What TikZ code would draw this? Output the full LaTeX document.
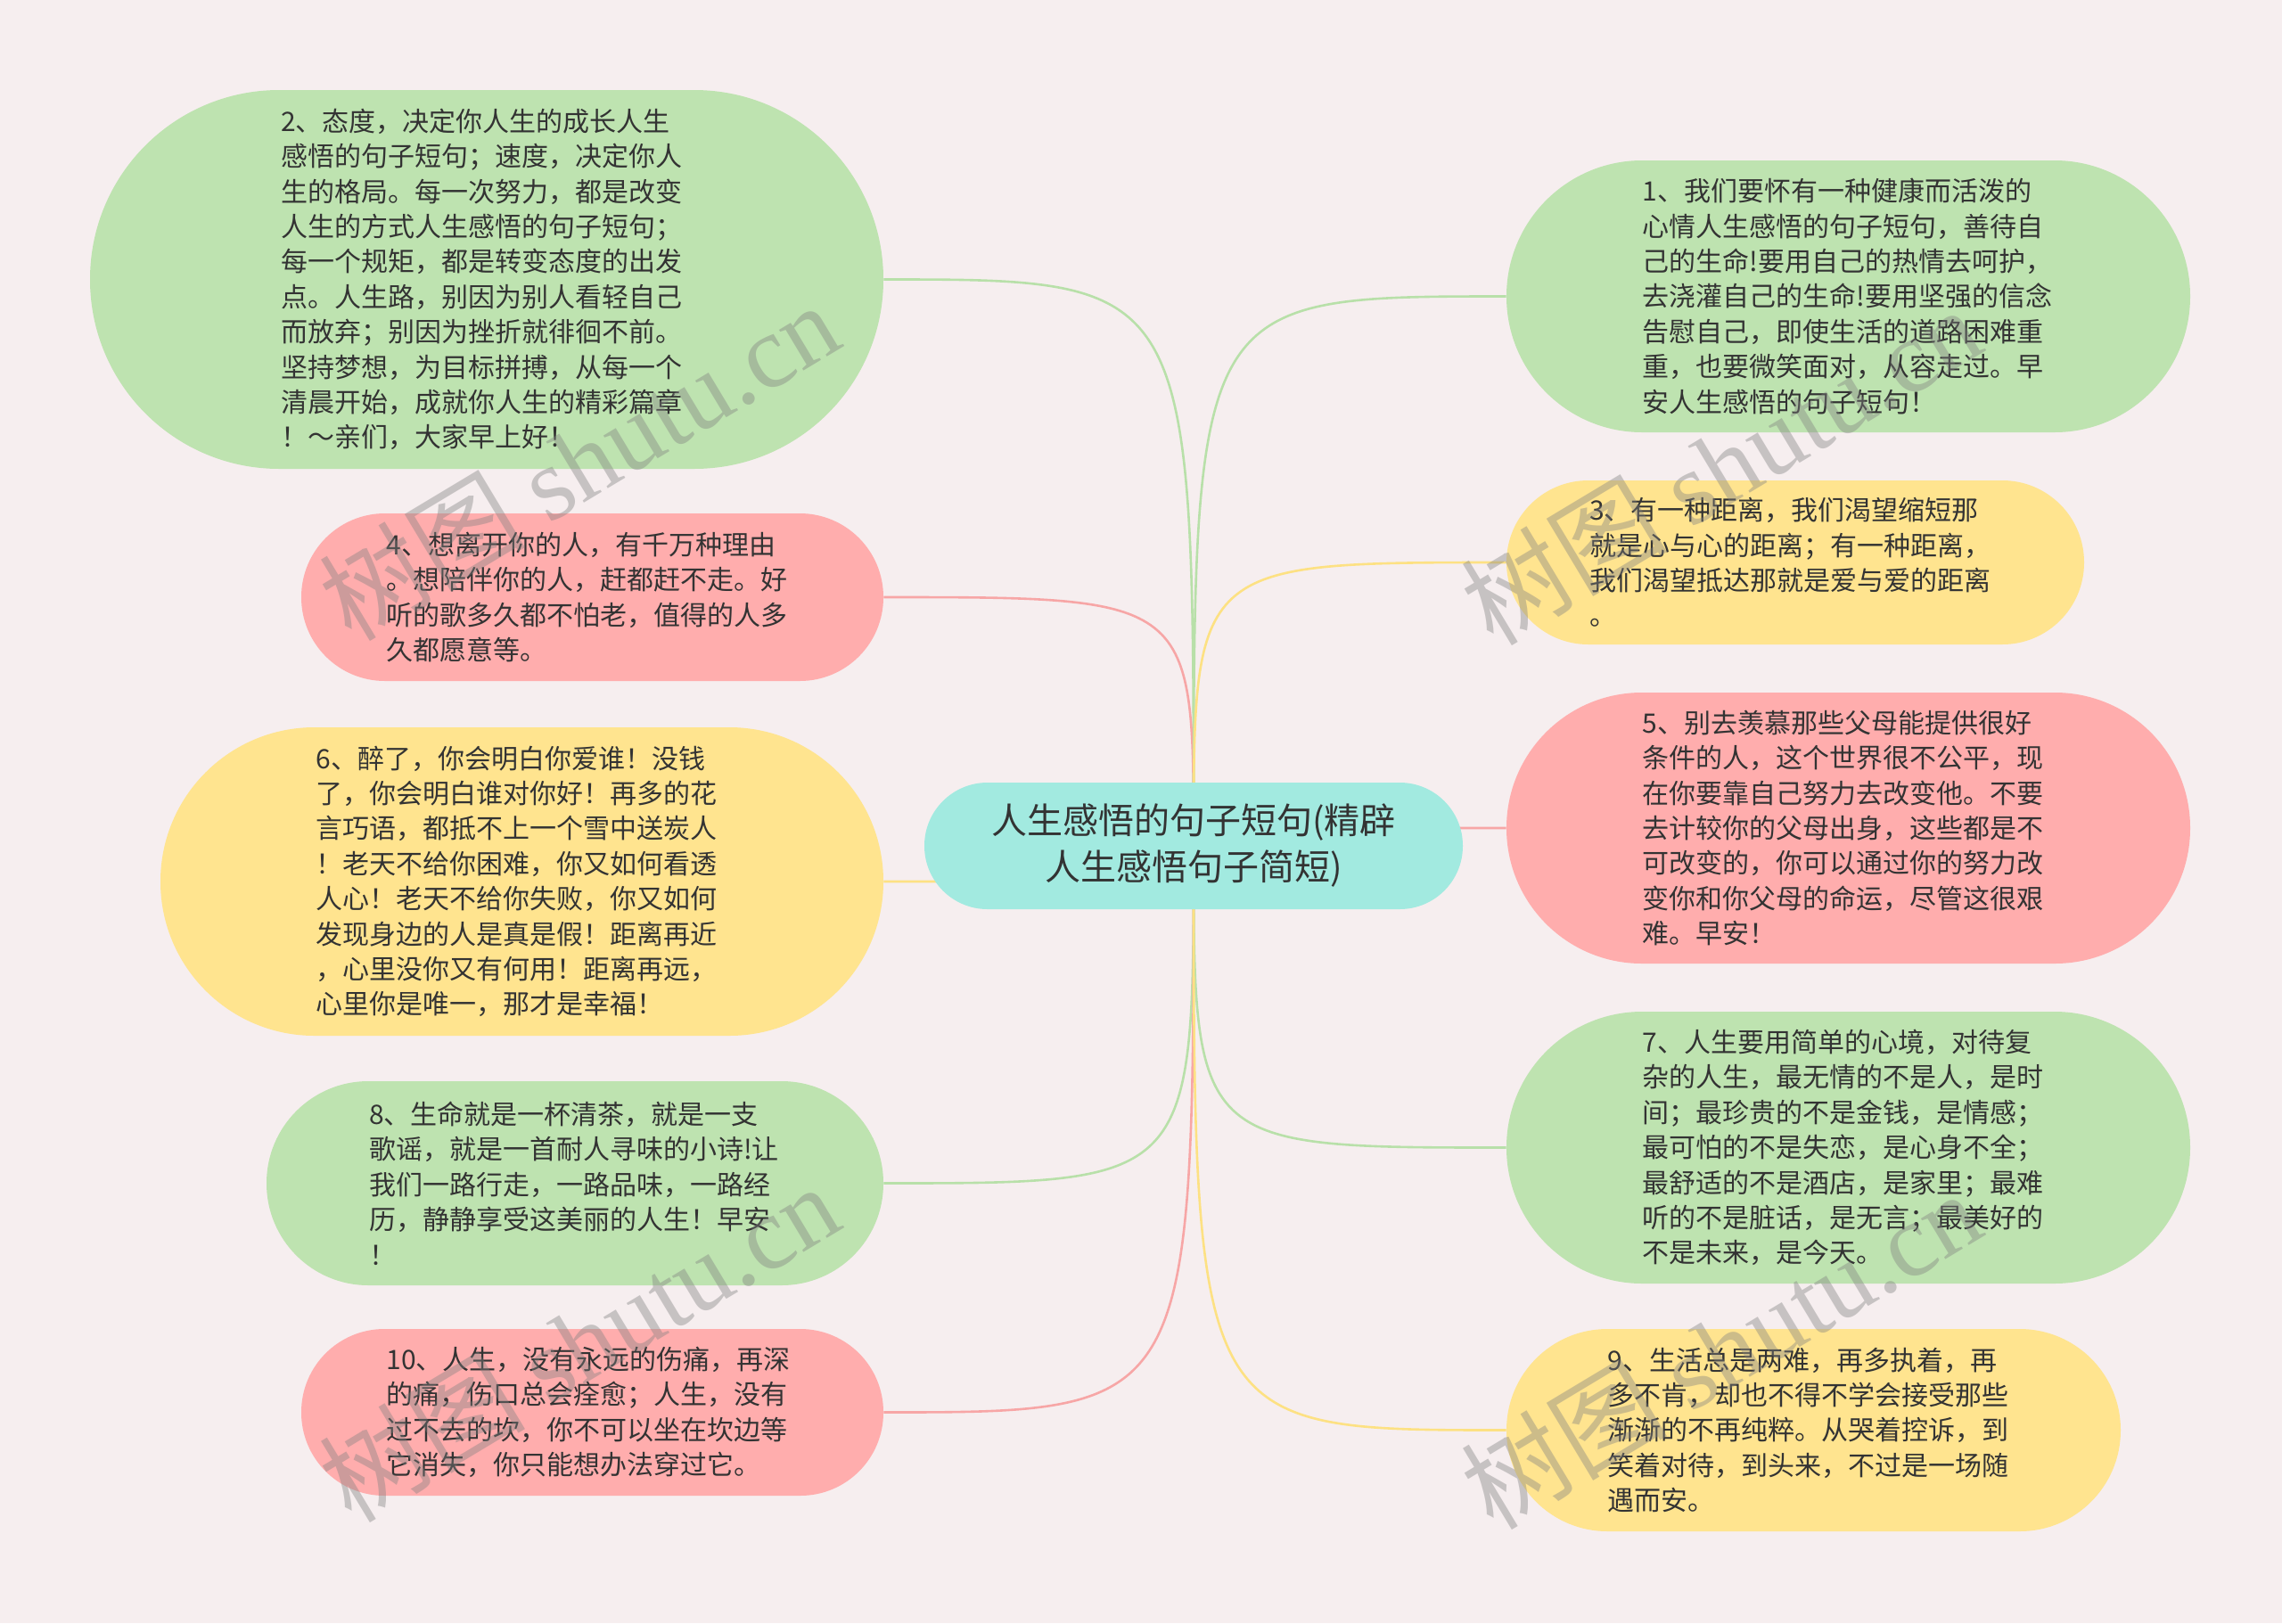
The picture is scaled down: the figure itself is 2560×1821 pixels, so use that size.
\documentclass[tikz,border=0pt]{standalone}
\usepackage{fontspec}
\setmainfont{Noto Sans CJK SC}
\newfontfamily\wmserif{Liberation Serif}
\pgfdeclarelayer{bg}
\pgfsetlayers{bg,main}
\definecolor{bgc}{HTML}{F6EEEF}
\definecolor{gfill}{HTML}{BEE3B0}
\definecolor{rfill}{HTML}{FFADAD}
\definecolor{yfill}{HTML}{FFE48F}
\definecolor{cfill}{HTML}{A2EAE0}
\definecolor{gline}{HTML}{B8E0A9}
\definecolor{rline}{HTML}{F7A6A6}
\definecolor{yline}{HTML}{FDE183}
\definecolor{txt}{HTML}{333333}
\begin{document}
\begin{tikzpicture}[x=0.5pt,y=-0.5pt,
  bubble/.style={draw=none, rectangle, inner sep=0pt, text width=231pt, align=left,
    font=\fontsize{15pt}{19.7pt}\selectfont, text=txt},
  centerbox/.style={draw=none, rectangle, inner sep=0pt, align=center, fill=cfill,
    font=\fontsize{20pt}{26pt}\selectfont, text=txt},
  conn/.style={line width=1.3pt},
  wm/.style={rotate=31, text=gray, opacity=0.4, font=\fontsize{58pt}{58pt}\selectfont},
]
\useasboundingbox (0,0) rectangle (2560,1821);

\node[centerbox, minimum width=302pt, minimum height=71pt, rounded corners=35.4pt] (C) at (1339,949)
  {人生感悟的句子短句(精辟\\人生感悟句子简短)};

\node[bubble, fill=gfill, minimum width=445pt, minimum height=212.5pt, rounded corners=106.1pt] (L1) at (546,313.5)
  {2、态度，决定你人生的成长人生\\
感悟的句子短句；速度，决定你人\\
生的格局。每一次努力，都是改变\\
人生的方式人生感悟的句子短句；\\
每一个规矩，都是转变态度的出发\\
点。人生路，别因为别人看轻自己\\
而放弃；别因为挫折就徘徊不前。\\
坚持梦想，为目标拼搏，从每一个\\
清晨开始，成就你人生的精彩篇章\\
！～亲们，大家早上好！};

\node[bubble, fill=rfill, minimum width=326.5pt, minimum height=94pt, rounded corners=46.9pt] (L2) at (664.5,670)
  {4、想离开你的人，有千万种理由\\
。想陪伴你的人，赶都赶不走。好\\
听的歌多久都不怕老，值得的人多\\
久都愿意等。};

\node[bubble, fill=yfill, minimum width=405.5pt, minimum height=173pt, rounded corners=86.4pt] (L3) at (585.5,989)
  {6、醉了，你会明白你爱谁！没钱\\
了，你会明白谁对你好！再多的花\\
言巧语，都抵不上一个雪中送炭人\\
！老天不给你困难，你又如何看透\\
人心！老天不给你失败，你又如何\\
发现身边的人是真是假！距离再近\\
，心里没你又有何用！距离再远，\\
心里你是唯一，那才是幸福！};

\node[bubble, fill=gfill, minimum width=346pt, minimum height=114.5pt, rounded corners=57.1pt] (L4) at (645,1327.5)
  {8、生命就是一杯清茶，就是一支\\
歌谣，就是一首耐人寻味的小诗!让\\
我们一路行走，一路品味，一路经\\
历，静静享受这美丽的人生！早安\\
！};

\node[bubble, fill=rfill, minimum width=326.5pt, minimum height=93.5pt, rounded corners=46.6pt] (L5) at (664.5,1584.5)
  {10、人生，没有永远的伤痛，再深\\
的痛，伤口总会痊愈；人生，没有\\
过不去的坎，你不可以坐在坎边等\\
它消失，你只能想办法穿过它。};

\node[bubble, fill=gfill, minimum width=383.5pt, minimum height=152.5pt, rounded corners=76.1pt] (R1) at (2073.5,332.5)
  {1、我们要怀有一种健康而活泼的\\
心情人生感悟的句子短句，善待自\\
己的生命!要用自己的热情去呵护，\\
去浇灌自己的生命!要用坚强的信念\\
告慰自己，即使生活的道路困难重\\
重，也要微笑面对，从容走过。早\\
安人生感悟的句子短句！};

\node[bubble, fill=yfill, minimum width=324pt, minimum height=92pt, rounded corners=45.9pt] (R2) at (2014,631)
  {3、有一种距离，我们渴望缩短那\\
就是心与心的距离；有一种距离，\\
我们渴望抵达那就是爱与爱的距离\\
。};

\node[bubble, fill=rfill, minimum width=383.5pt, minimum height=152pt, rounded corners=75.9pt] (R3) at (2073.5,929)
  {5、别去羡慕那些父母能提供很好\\
条件的人，这个世界很不公平，现\\
在你要靠自己努力去改变他。不要\\
去计较你的父母出身，这些都是不\\
可改变的，你可以通过你的努力改\\
变你和你父母的命运，尽管这很艰\\
难。早安！};

\node[bubble, fill=gfill, minimum width=383.5pt, minimum height=152.5pt, rounded corners=76.1pt] (R4) at (2073.5,1287.5)
  {7、人生要用简单的心境，对待复\\
杂的人生，最无情的不是人，是时\\
间；最珍贵的不是金钱，是情感；\\
最可怕的不是失恋，是心身不全；\\
最舒适的不是酒店，是家里；最难\\
听的不是脏话，是无言；最美好的\\
不是未来，是今天。};

\node[bubble, fill=yfill, minimum width=344.5pt, minimum height=113.5pt, rounded corners=56.6pt] (R5) at (2034.5,1604.5)
  {9、生活总是两难，再多执着，再\\
多不肯，却也不得不学会接受那些\\
渐渐的不再纯粹。从哭着控诉，到\\
笑着对待，到头来，不过是一场随\\
遇而安。};

\begin{pgfonlayer}{bg}
\fill[bgc] (0,0) rectangle (2560,1821);
\foreach \n/\c in {L1/gline,L2/rline,L3/yline,L4/gline,L5/rline}
  \draw[conn, \c] (C.center) .. controls (C.center |- \n.east) and (C.center |- \n.east) .. (\n.east);
\foreach \n/\c in {R1/gline,R2/yline,R3/rline,R4/gline,R5/yline}
  \draw[conn, \c] (C.center) .. controls (C.center |- \n.west) and (C.center |- \n.west) .. (\n.west);
\end{pgfonlayer}

\node[wm] (W1) at (649,517) {树图 {\wmserif shutu.cn}};
\node[wm] (W2) at (1930,522) {树图 {\wmserif shutu.cn}};
\node[wm] (W3) at (649,1506) {树图 {\wmserif shutu.cn}};
\node[wm] (W4) at (1930,1514) {树图 {\wmserif shutu.cn}};
\end{tikzpicture}
\end{document}
